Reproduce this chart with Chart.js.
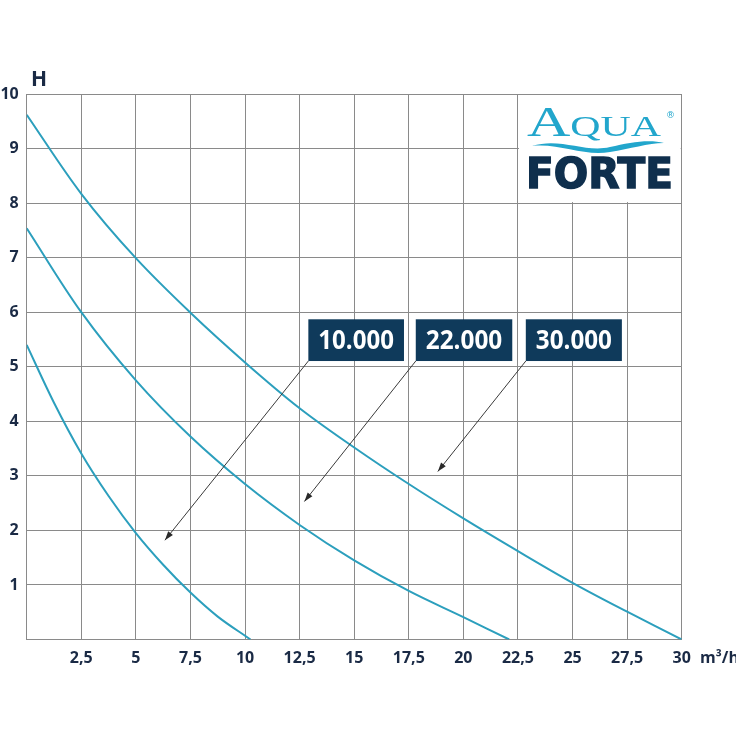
<!DOCTYPE html>
<html>
<head>
<meta charset="utf-8">
<script src="https://cdn.jsdelivr.net/npm/chart.js@4.4.1/dist/chart.umd.min.js"></script>
<style>
  html, body { margin: 0; padding: 0; background: #ffffff; }
  #wrap { width: 736px; height: 736px; }
</style>
</head>
<body>
<div id="wrap"><canvas id="pumpChart" width="736" height="736"></canvas></div>
<script>
// flow (m3/h) and head (m)
var flow10000 = [0, 1.25, 2.5, 3.75, 5, 6.25, 7.5, 8.75, 10.25];
var head10000 = [5.40, 4.34, 3.41, 2.63, 1.95, 1.37, 0.86, 0.42, 0];

var flow22000 = [0, 2.5, 5, 7.5, 10, 12.5, 15, 17.5, 20, 22.1];
var head22000 = [7.54, 6.0, 4.75, 3.72, 2.85, 2.1, 1.45, 0.89, 0.41, 0];

var flow30000 = [0, 2.5, 5, 7.5, 10, 12.5, 15, 17.5, 20, 22.5, 25, 27.5, 30];
var head30000 = [9.62, 8.17, 6.99, 5.99, 5.08, 4.24, 3.52, 2.85, 2.22, 1.62, 1.04, 0.51, 0];

var seriesNames = ["10.000", "22.000", "30.000"];

var xTickValues = [0, 2.5, 5, 7.5, 10, 12.5, 15, 17.5, 20, 22.5, 25, 27.5, 30];
var xTickLabels = ["", "2,5", "5", "7,5", "10", "12,5", "15", "17,5", "20", "22,5", "25", "27,5", "30"];
var yTickValues = [0, 1, 2, 3, 4, 5, 6, 7, 8, 9, 10];
var yTickLabels = ["", "1", "2", "3", "4", "5", "6", "7", "8", "9", "10"];

function toPoints(xs, ys) {
    return xs.map(function (x, i) { return { x: x, y: ys[i] }; });
}

var curveColor = "#2c9fbd";
var navy = "#0f3a5b";
var tickColor = "#1a2a45";
var gridColor = "#8a8a8a";

// label boxes + arrows, in axis units
var callouts = [
    { box: [12.9, 17.28], top: 5.87, bottom: 5.105, tip: [6.33, 1.82] },
    { box: [17.82, 22.24], top: 5.87, bottom: 5.105, tip: [12.72, 2.53] },
    { box: [22.86, 27.26], top: 5.87, bottom: 5.105, tip: [18.83, 3.08] }
];

var decorPlugin = {
    id: "decor",
    afterDraw: function (chart) {
        var ctx = chart.ctx;
        var xs = chart.scales.x, ys = chart.scales.y;

        // arrows
        ctx.save();
        ctx.strokeStyle = "#3a3a3a";
        ctx.fillStyle = "#2a2a2a";
        ctx.lineWidth = 1;
        callouts.forEach(function (c) {
            var x0 = xs.getPixelForValue(c.box[0]), y0 = ys.getPixelForValue(c.bottom);
            var x1 = xs.getPixelForValue(c.tip[0]), y1 = ys.getPixelForValue(c.tip[1]);
            ctx.beginPath();
            ctx.moveTo(x0, y0);
            ctx.lineTo(x1, y1);
            ctx.stroke();
            var a = Math.atan2(y1 - y0, x1 - x0);
            ctx.beginPath();
            ctx.moveTo(x1, y1);
            ctx.lineTo(x1 - 9 * Math.cos(a) + 3 * Math.sin(a), y1 - 9 * Math.sin(a) - 3 * Math.cos(a));
            ctx.lineTo(x1 - 9 * Math.cos(a) - 3 * Math.sin(a), y1 - 9 * Math.sin(a) + 3 * Math.cos(a));
            ctx.closePath();
            ctx.fill();
        });

        // label boxes
        callouts.forEach(function (c, i) {
            var l = xs.getPixelForValue(c.box[0]), r = xs.getPixelForValue(c.box[1]);
            var t = ys.getPixelForValue(c.top), b = ys.getPixelForValue(c.bottom);
            ctx.fillStyle = navy;
            ctx.fillRect(l, t, r - l, b - t);
            ctx.fillStyle = "#ffffff";
            ctx.font = "bold 26px 'Open Sans', 'DejaVu Sans', sans-serif";
            ctx.textAlign = "center";
            ctx.textBaseline = "middle";
            ctx.fillText(seriesNames[i], (l + r) / 2, (t + b) / 2 + 1, r - l - 20);
        });

        // logo panel
        var lx = xs.getPixelForValue(22.5) + 1, rx = xs.getPixelForValue(30) - 1;
        var ty = ys.getPixelForValue(10) + 1, by = ys.getPixelForValue(8) - 1;
        ctx.fillStyle = "#ffffff";
        ctx.fillRect(lx, ty, rx - lx, by - ty);

        ctx.fillStyle = "#22a6cc";
        ctx.textAlign = "left";
        ctx.textBaseline = "alphabetic";
        ctx.save();
        ctx.translate(527, 136);
        ctx.font = "43px 'Liberation Serif', 'DejaVu Serif', serif";
        var wA = ctx.measureText("A").width;
        ctx.font = "30px 'Liberation Serif', 'DejaVu Serif', serif";
        var wQ = ctx.measureText("QUA").width;
        ctx.scale(134 / (wA + wQ), 1);
        ctx.font = "43px 'Liberation Serif', 'DejaVu Serif', serif";
        ctx.fillText("A", 0, 0);
        ctx.font = "30px 'Liberation Serif', 'DejaVu Serif', serif";
        ctx.fillText("QUA", wA, 0);
        ctx.restore();

        ctx.font = "9px 'DejaVu Sans', sans-serif";
        ctx.fillText("\u00ae", 666, 118);

        // wave
        ctx.beginPath();
        ctx.moveTo(532, 146);
        ctx.bezierCurveTo(560, 137, 585, 153, 610, 147);
        ctx.bezierCurveTo(630, 142, 650, 139, 664, 143);
        ctx.bezierCurveTo(648, 143, 630, 149, 610, 152);
        ctx.bezierCurveTo(585, 157, 560, 143, 532, 146);
        ctx.fill();

        ctx.fillStyle = "#0f2f4d";
        ctx.strokeStyle = "#0f2f4d";
        ctx.lineWidth = 1.5;
        ctx.save();
        ctx.translate(526, 188);
        ctx.font = "bold 42px 'DejaVu Sans', 'Liberation Sans', sans-serif";
        var wF = ctx.measureText("FORTE").width;
        ctx.scale(147 / wF, 1);
        ctx.fillText("FORTE", 0, 0);
        ctx.strokeText("FORTE", 0, 0);
        ctx.restore();

        // axis titles
        ctx.fillStyle = tickColor;
        ctx.font = "bold 21px 'Open Sans', 'DejaVu Sans', sans-serif";
        ctx.textAlign = "center";
        ctx.fillText("H", 39, 86);
        ctx.font = "bold 16px 'Open Sans', 'DejaVu Sans', sans-serif";
        ctx.textAlign = "left";
        ctx.textBaseline = "middle";
        ctx.fillText("m\u00b3/h", 700, 658);
        ctx.restore();
    }
};

var fontTicks = { family: "'Open Sans', 'DejaVu Sans', sans-serif", size: 16, weight: "bold" };

function curve(label, xs, ys) {
    return {
        label: label,
        data: toPoints(xs, ys),
        borderColor: curveColor,
        borderWidth: 2,
        pointRadius: 0,
        fill: false,
        tension: 0.35
    };
}

new Chart(document.getElementById("pumpChart"), {
    type: "line",
    data: {
        datasets: [
            curve(seriesNames[0], flow10000, head10000),
            curve(seriesNames[1], flow22000, head22000),
            curve(seriesNames[2], flow30000, head30000)
        ]
    },
    options: {
        responsive: false,
        animation: false,
        devicePixelRatio: 1,
        layout: { padding: { left: 0, top: 94, right: 54.3, bottom: 66.5 } },
        plugins: {
            legend: { display: false },
            tooltip: { enabled: false }
        },
        scales: {
            x: {
                type: "linear",
                min: 0,
                max: 30,
                afterBuildTicks: function (scale) {
                    scale.ticks = xTickValues.map(function (v) { return { value: v }; });
                },
                afterFit: function (scale) { scale.height = 30; },
                ticks: {
                    autoSkip: false,
                    maxRotation: 0,
                    padding: 9,
                    color: tickColor,
                    font: fontTicks,
                    callback: function (v, i) { return xTickLabels[i]; }
                },
                grid: { color: gridColor, lineWidth: 1, drawTicks: false },
                border: { color: gridColor, width: 1 }
            },
            y: {
                min: 0,
                max: 10,
                afterBuildTicks: function (scale) {
                    scale.ticks = yTickValues.map(function (v) { return { value: v }; });
                },
                afterFit: function (scale) { scale.width = 26.7; },
                ticks: {
                    autoSkip: false,
                    padding: 8,
                    color: tickColor,
                    font: fontTicks,
                    callback: function (v, i) { return yTickLabels[i]; }
                },
                grid: { color: gridColor, lineWidth: 1, drawTicks: false },
                border: { color: gridColor, width: 1 }
            }
        }
    },
    plugins: [decorPlugin]
});
</script>
</body>
</html>
